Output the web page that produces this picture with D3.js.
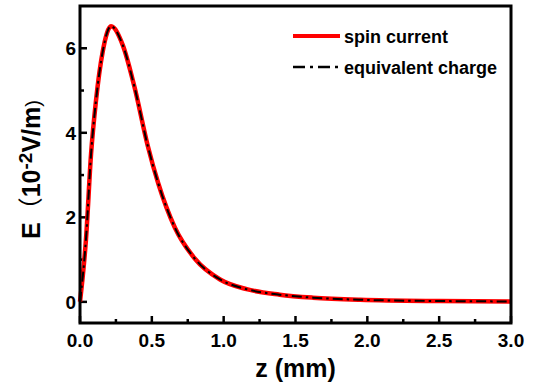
<!DOCTYPE html>
<html>
<head>
<meta charset="utf-8">
<script src="https://cdn.jsdelivr.net/npm/d3@7"></script>
<style>
  body { margin: 0; background: #fff; }
  text { font-family: Arial, "Liberation Sans", sans-serif; font-weight: bold; }
</style>
</head>
<body>
<div id="chart"></div>
<script>
(function () {

  /***** Data *****/
  var zValues = [0, 0.042, 0.077, 0.111, 0.158, 0.216, 0.297, 0.378, 0.471, 0.545, 0.66, 0.80, 0.975, 1.16, 1.39, 1.62, 1.95, 2.5, 3.0]
  var spinCurrent = [0, 1.5, 3.5, 4.75, 5.92, 6.52, 6.08, 5.1, 3.7, 2.8, 1.76, 1.02, 0.53, 0.30, 0.17, 0.10, 0.05, 0.02, 0.01]
  var equivalentCharge = [0, 1.5, 3.5, 4.75, 5.92, 6.52, 6.08, 5.1, 3.7, 2.8, 1.76, 1.02, 0.53, 0.30, 0.17, 0.10, 0.05, 0.02, 0.01]
  var xTicks = [0, 0.5, 1.0, 1.5, 2.0, 2.5, 3.0]
  var yTicks = [0, 2, 4, 6]
  var seriesNames = ["spin current", "equivalent charge"]

  /***** Configuration *****/
  var margin = { top: 6, right: 25, bottom: 64, left: 80 }
  var W = 536, H = 387
  var width = W - margin.left - margin.right
  var height = H - margin.top - margin.bottom

  var svg = d3.select("#chart").append("svg")
      .attr("width", W)
      .attr("height", H)

  var g = svg.append("g")
      .attr("transform", "translate(" + margin.left + "," + margin.top + ")")

  var x = d3.scaleLinear().domain([0, 3]).range([0, width])
  var y = d3.scaleLinear().domain([-0.5, 7]).range([height, 0])

  // minor + major ticks, pointing inwards
  var xMinor = d3.range(0.25, 3, 0.5)
  var yMinor = [1, 3, 5]

  g.selectAll(".xmaj").data(xTicks).enter().append("line")
      .attr("x1", d => x(d)).attr("x2", d => x(d))
      .attr("y1", height).attr("y2", height - 7)
      .attr("stroke", "#000").attr("stroke-width", 2.5)
  g.selectAll(".xmin").data(xMinor).enter().append("line")
      .attr("x1", d => x(d)).attr("x2", d => x(d))
      .attr("y1", height).attr("y2", height - 4)
      .attr("stroke", "#000").attr("stroke-width", 2.5)
  g.selectAll(".ymaj").data(yTicks).enter().append("line")
      .attr("x1", 0).attr("x2", 7)
      .attr("y1", d => y(d)).attr("y2", d => y(d))
      .attr("stroke", "#000").attr("stroke-width", 2.5)
  g.selectAll(".ymin").data(yMinor).enter().append("line")
      .attr("x1", 0).attr("x2", 4)
      .attr("y1", d => y(d)).attr("y2", d => y(d))
      .attr("stroke", "#000").attr("stroke-width", 2.5)

  // tick labels
  g.selectAll(".xlab").data(xTicks).enter().append("text")
      .attr("x", d => x(d)).attr("y", height + 24)
      .attr("text-anchor", "middle")
      .style("font-size", "19px")
      .text(d => d3.format(".1f")(d))
  g.selectAll(".ylab").data(yTicks).enter().append("text")
      .attr("x", -4).attr("y", d => y(d) + 7)
      .attr("text-anchor", "end")
      .style("font-size", "19px")
      .text(d => d)

  /***** Lines *****/
  var rows = zValues.map((z, i) => ({ z: z, a: spinCurrent[i], b: equivalentCharge[i] }))

  var lineA = d3.line().x(d => x(d.z)).y(d => y(d.a)).curve(d3.curveMonotoneX)
  var lineB = d3.line().x(d => x(d.z)).y(d => y(d.b)).curve(d3.curveMonotoneX)

  g.append("path").datum(rows)
      .attr("d", lineA)
      .attr("fill", "none")
      .attr("stroke", "#ff0000")
      .attr("stroke-width", 4.5)
  g.append("path").datum(rows)
      .attr("d", lineB)
      .attr("fill", "none")
      .attr("stroke", "#000")
      .attr("stroke-width", 2)
      .attr("stroke-dasharray", "10,4,2.5,4")

  // frame
  g.append("rect")
      .attr("x", 0).attr("y", 0)
      .attr("width", width).attr("height", height)
      .attr("fill", "none")
      .attr("stroke", "#000")
      .attr("stroke-width", 3)

  /***** Legend *****/
  var legend = svg.append("g").attr("transform", "translate(293,36)")
  legend.append("line")
      .attr("x1", 0).attr("x2", 47).attr("y1", 0).attr("y2", 0)
      .attr("stroke", "#ff0000").attr("stroke-width", 4)
  legend.append("line")
      .attr("x1", 0).attr("x2", 47).attr("y1", 31).attr("y2", 31)
      .attr("stroke", "#000").attr("stroke-width", 2.5)
      .attr("stroke-dasharray", "12,5,3,5")
  legend.selectAll(".lt").data(seriesNames).enter().append("text")
      .attr("x", 51).attr("y", (d, i) => 7 + i * 31)
      .style("font-size", "18px")
      .text(d => d)

  /***** Axis titles *****/
  svg.append("text")
      .attr("x", margin.left + width / 2).attr("y", 377)
      .attr("text-anchor", "middle")
      .style("font-size", "25px")
      .text("z (mm)")

  var yTitle = svg.append("text")
      .attr("transform", "translate(40,239) rotate(-90)")
      .attr("text-anchor", "start")
      .style("font-size", "25px")
  yTitle.append("tspan").text("E")
  yTitle.append("tspan").style("font-weight", "normal").style("font-family", "'Noto Sans CJK SC'").text("（")
  yTitle.append("tspan").text("10")
  yTitle.append("tspan").attr("dy", -8).style("font-size", "19px").text("-2")
  yTitle.append("tspan").attr("dy", 8).text("V/m")
  yTitle.append("tspan").style("font-weight", "normal").style("font-size", "20px").text(")")

})()
</script>
</body>
</html>
